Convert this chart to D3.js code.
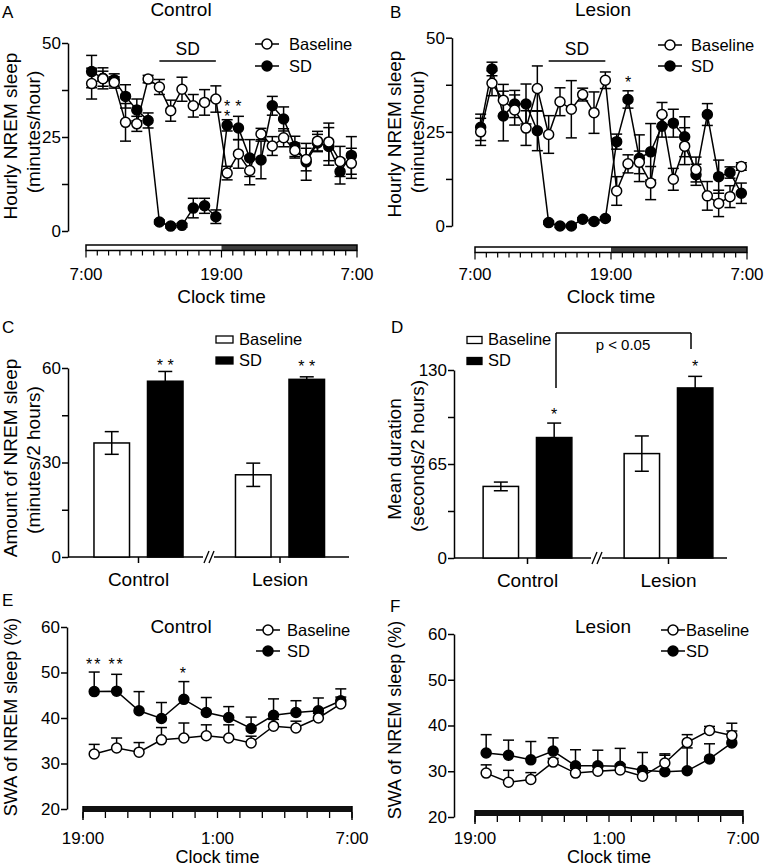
<!DOCTYPE html>
<html><head><meta charset="utf-8">
<script src="https://cdn.jsdelivr.net/npm/d3@7"></script>
<style>
body{margin:0;background:#fff}
svg{display:block}
text{font-family:"Liberation Sans",Arial,Helvetica,sans-serif;fill:#000}
</style>
</head><body>
<svg id="chart" width="768" height="868"></svg>
<script>
// ---------------- DATA ----------------
const hourSlots24 = d3.range(24).map(i => i + 0.5);   // hourly bins, 7:00 -> 7:00
const hourSlots12 = d3.range(12).map(i => i + 0.5);   // hourly bins, 19:00 -> 7:00
const xTicksDay = ["7:00", "19:00", "7:00"];
const xTicksNight = ["19:00", "1:00", "7:00"];

// Panel A (Control, hourly NREM sleep, minutes/hour)
const ctrlBaseline    = [39.2,40.5,39.5,28.9,28.5,40.4,38.3,32.0,37.7,33.3,34.2,35.1,15.4,20.5,16.1,25.8,22.6,24.8,21.4,19.0,23.9,23.7,18.5,18.0];
const ctrlBaselineErr = [4.1,2.0,1.5,5.0,2.0,1.0,2.0,2.8,3.2,3.0,3.4,3.5,1.8,3.8,3.8,1.5,2.5,2.4,2.0,3.0,2.6,5.0,4.0,4.0];
const ctrlSD          = [42.4,40.6,40.2,35.8,32.2,29.4,2.4,1.3,1.5,6.1,6.7,3.8,28.1,27.4,19.4,18.9,33.3,29.8,22.5,18.4,23.4,22.5,15.8,20.1];
const ctrlSDErr       = [4.3,2.8,1.6,3.1,2.9,2.0,0.5,0.5,0.5,2.6,2.0,1.8,1.5,3.1,4.9,5.0,2.5,3.2,2.7,4.9,2.3,5.0,3.3,5.0];

// Panel B (Lesion, hourly NREM sleep)
const lesBaseline     = [25.0,37.9,33.4,30.8,26.0,36.5,24.3,33.0,31.0,34.9,30.1,38.7,9.3,16.5,16.9,11.4,29.6,12.4,21.2,15.0,8.0,6.0,7.8,15.8];
const lesBaselineErr  = [3.6,3.3,4.2,4.0,4.6,6.0,5.0,3.7,7.6,1.7,5.5,2.2,3.8,2.4,3.0,4.4,3.2,2.9,4.9,3.3,3.8,3.5,2.9,1.0];
const lesSD           = [26.2,41.7,29.2,32.4,32.4,25.3,0.9,0.0,0.0,1.8,1.2,2.0,22.4,33.6,18.0,19.7,26.5,27.3,23.7,13.6,29.6,13.1,14.2,8.7];
const lesSDErr        = [3.5,1.8,6.6,3.6,5.3,5.3,0.4,0.4,0.4,0.4,0.4,0.4,2.0,2.3,6.2,7.5,2.9,3.7,5.3,2.8,2.9,4.4,1.5,2.7];

// Panels C & D (bars)
const groups = ["Control", "Lesion"];
const conditions = ["Baseline", "SD"];
const amountNREM     = [[36.2, 55.8], [26.1, 56.4]];   // minutes / 2 hours
const amountNREMErr  = [[3.6, 3.1], [3.7, 0.8]];
const amountStars    = ["* *", "* *"];
const meanDuration    = [[49.5, 83.3], [72.2, 117.6]]; // seconds / 2 hours
const meanDurationErr = [[3.0, 10.0], [12.2, 8.0]];
const durationStars   = ["*", "*"];

// Panel E (Control, SWA %)
const ctrlSWABase    = [32.1,33.4,32.5,35.2,35.6,36.1,35.6,34.5,38.2,37.8,40.0,43.1];
const ctrlSWABaseErr = [2.1,2.2,2.1,2.7,3.3,2.4,2.9,1.5,1.5,1.5,1.0,1.5];
const ctrlSWASD      = [45.8,45.9,41.6,39.9,44.1,41.2,40.1,37.7,40.6,41.2,41.6,43.8];
const ctrlSWASDErr   = [4.3,3.7,4.2,3.5,3.9,3.3,2.4,2.5,3.6,2.6,2.8,2.6];
const ctrlSWAStars   = ["**","**","","","*","","","","","","",""];

// Panel F (Lesion, SWA %)
const lesSWABase    = [29.6,27.6,28.2,32.0,29.6,30.0,30.3,28.9,31.8,36.3,38.9,37.8];
const lesSWABaseErr = [1.8,2.6,1.5,0.8,1.0,1.0,1.2,1.0,2.0,1.7,0.9,1.0];
const lesSWASD      = [34.0,33.5,32.5,34.4,31.2,31.2,31.1,30.2,29.9,30.1,32.7,36.2];
const lesSWASDErr   = [4.0,3.3,4.0,2.9,3.5,3.4,3.9,3.9,3.6,5.0,3.3,4.3];

// ---------------- DRAWING ----------------
const svg = d3.select("#chart");
const FONT_TICK = 17, FONT_LAB = 19, FONT_LEG = 16.5;

function text(x, y, s, size, anchor = "start", rot = 0) {
  const t = svg.append("text").attr("x", x).attr("y", y).text(s)
    .attr("font-size", size).attr("text-anchor", anchor);
  if (rot) t.attr("transform", `rotate(${rot},${x},${y})`);
  return t;
}
function line(x1, y1, x2, y2, w = 1.5, col = "#000") {
  return svg.append("line").attr("x1", x1).attr("y1", y1).attr("x2", x2).attr("y2", y2)
    .attr("stroke", col).attr("stroke-width", w);
}
function yAxis(y, x, ticks, labelled) {
  const g = svg.append("g").attr("transform", `translate(${x},0)`)
    .call(d3.axisLeft(y).tickValues(ticks).tickSize(6).tickSizeOuter(0).tickPadding(1)
      .tickFormat(d => labelled.includes(d) ? d : ""));
  g.select(".domain").attr("stroke-width", 1.5);
  g.selectAll(".tick line").attr("stroke-width", 1.5);
  g.selectAll(".tick text").attr("font-size", FONT_TICK).attr("font-family", '"Liberation Sans",Arial,sans-serif').attr("fill", "#000");
  return g;
}

function drawSeries(x, y, xs, vals, errs, filled, errMode) {
  const g = svg.append("g");
  const pts = xs.map((h, i) => ({h, v: vals[i], e: errs[i]}));
  g.append("path").datum(pts)
    .attr("d", d3.line().x(d => x(d.h)).y(d => y(d.v)))
    .attr("fill", "none").attr("stroke", "#000").attr("stroke-width", 1.5);
  return {g, pts, filled, errMode, x, y};
}
function drawErrAndDots(s) {
  const {g, pts, filled, errMode, x, y} = s;
  const cap = 5.5;
  pts.forEach(d => {
    const cx = x(d.h);
    const top = y(d.v + d.e), bot = errMode === "both" ? y(d.v - d.e) : y(d.v);
    g.append("line").attr("x1", cx).attr("x2", cx).attr("y1", top).attr("y2", bot).attr("stroke", "#000").attr("stroke-width", 1.5);
    g.append("line").attr("x1", cx - cap).attr("x2", cx + cap).attr("y1", top).attr("y2", top).attr("stroke", "#000").attr("stroke-width", 1.5);
    if (errMode === "both")
      g.append("line").attr("x1", cx - cap).attr("x2", cx + cap).attr("y1", bot).attr("y2", bot).attr("stroke", "#000").attr("stroke-width", 1.5);
  });
  g.selectAll("circle.pt").data(pts).join("circle").attr("class", "pt")
    .attr("cx", d => x(d.h)).attr("cy", d => y(d.v)).attr("r", 5)
    .attr("fill", filled ? "#000" : "#fff").attr("stroke", "#000").attr("stroke-width", 1.5);
}
function lineLegend(cx, y1, y2, tx) {
  [[y1, false, "Baseline"], [y2, true, "SD"]].forEach(([yy, f, lab]) => {
    line(cx - 12, yy, cx + 12, yy, 1.5);
    svg.append("circle").attr("cx", cx).attr("cy", yy).attr("r", 5)
      .attr("fill", f ? "#000" : "#fff").attr("stroke", "#000").attr("stroke-width", 1.5);
    text(tx, yy + 6, lab, FONT_LEG);
  });
}

// ----- Panels A & B -----
function hourlyPanel(o) {
  const x = d3.scaleLinear().domain([0, 24]).range([o.x0, o.x1]);
  const y = d3.scaleLinear().domain([0, 50]).range([o.yb, o.yt]);
  yAxis(y, o.ax, [0, 12.5, 25, 37.5, 50], [0, 25, 50]);
  // light/dark bar
  const bt = o.barTop, bh = 5.5;
  svg.append("rect").attr("x", x(0)).attr("y", bt).attr("width", x(12) - x(0)).attr("height", bh).attr("fill", "#fff");
  svg.append("rect").attr("x", x(12)).attr("y", bt).attr("width", x(24) - x(12)).attr("height", bh).attr("fill", "#3d3d3d");
  svg.append("rect").attr("x", x(0)).attr("y", bt).attr("width", x(24) - x(0)).attr("height", bh)
    .attr("fill", "none").attr("stroke", "#000").attr("stroke-width", 1.5);
  d3.range(25).forEach(h => line(x(h), bt + bh, x(h), bt + bh + ((h % 12 === 0) ? 7 : 5), 1.2));
  xTicksDay.forEach((lab, i) => text(x(i * 12), o.tickY, lab, FONT_TICK, "middle"));
  text((x(0) + x(24)) / 2, o.tickY + 23, "Clock time", FONT_LAB, "middle");
  // SD bar
  line(x(6.5), o.sdY, x(11.5), o.sdY, 1.5);
  text((x(6.5) + x(11.5)) / 2, o.sdY - 6, "SD", FONT_LEG + 1, "middle");
  const sSD = drawSeries(x, y, hourSlots24, o.sd, o.sdErr, true, "both");
  const sB = drawSeries(x, y, hourSlots24, o.base, o.baseErr, false, "both");
  drawErrAndDots(sSD);
  drawErrAndDots(sB);
  return {x, y};
}

// A
const pA = hourlyPanel({x0: 86, x1: 357, yb: 231, yt: 43, ax: 68, barTop: 245, tickY: 280, sdY: 61,
  base: ctrlBaseline, baseErr: ctrlBaselineErr, sd: ctrlSD, sdErr: ctrlSDErr});
text(2, 18, "A", 17);
text(181, 16, "Control", FONT_LAB, "middle");
lineLegend(267, 44, 66, 289);
text(10, 136, "Hourly NREM sleep", FONT_LAB, "middle", -90).attr("dy", 7);
text(33, 132, "(minutes/hour)", FONT_LAB, "middle", -90).attr("dy", 7);
// stacked significance stars after SD (19:00 and 20:00 bins)
const starA = svg.append("text").attr("font-size", 16).attr("text-anchor", "middle");
starA.append("tspan").attr("x", pA.x(12.5)).attr("y", 112).text("*");
starA.append("tspan").attr("x", pA.x(13.5)).attr("y", 112).text("*");
starA.append("tspan").attr("x", pA.x(12.5)).attr("y", 122).text("*");

// B
const pB = hourlyPanel({x0: 475, x1: 747, yb: 226, yt: 37.7, ax: 452, barTop: 247, tickY: 280, sdY: 61,
  base: lesBaseline, baseErr: lesBaselineErr, sd: lesSD, sdErr: lesSDErr});
text(390, 18, "B", 17);
text(603, 16, "Lesion", FONT_LAB, "middle");
lineLegend(670, 45, 66, 691);
text(394, 134, "Hourly NREM sleep", FONT_LAB, "middle", -90).attr("dy", 7);
text(417, 132, "(minutes/hour)", FONT_LAB, "middle", -90).attr("dy", 7);
text(pB.x(13.5), 88, "*", 16, "middle");

// ----- Panels C & D -----
function barPanel(o) {
  const x0 = d3.scaleBand().domain(groups).range([o.g0, o.g1]);
  const x1 = d3.scaleBand().domain(conditions).range([0, x0.bandwidth()]).paddingInner(0.336).paddingOuter(0.49);
  const y = d3.scaleLinear().domain([0, o.max]).range([o.yb, o.yt]);
  yAxis(y, o.ax, o.ticks, o.labelled);
  // x axis with break
  line(o.ax, o.yb, o.brk - 5, o.yb, 1.5);
  line(o.brk + 6, o.yb, o.axEnd, o.yb, 1.5);
  line(o.brk - 4, o.yb + 6, o.brk + 1, o.yb - 6, 1.3);
  line(o.brk + 1, o.yb + 6, o.brk + 6, o.yb - 6, 1.3);
  groups.forEach((gname, gi) => {
    const gx = x0(gname);
    line(gx + x0.bandwidth() / 2, o.yb, gx + x0.bandwidth() / 2, o.yb + 6, 1.5);
    text(gx + x0.bandwidth() / 2, o.yb + 29, gname, FONT_LAB, "middle");
    conditions.forEach((c, ci) => {
      const v = o.vals[gi][ci], e = o.errs[gi][ci];
      const bx = gx + x1(c), bw = x1.bandwidth(), cx = bx + bw / 2;
      svg.append("rect").attr("x", bx).attr("y", y(v)).attr("width", bw).attr("height", o.yb - y(v))
        .attr("fill", ci === 0 ? "#fff" : "#000").attr("stroke", "#000").attr("stroke-width", 1.5);
      line(cx, y(v + e), cx, y(v - e), 1.5);
      line(cx - 7, y(v + e), cx + 7, y(v + e), 1.5);
      line(cx - 7, y(v - e), cx + 7, y(v - e), 1.5);
      if (ci === 1) text(cx, o.starY[gi], o.stars[gi], 16, "middle");
    });
  });
  return {x0, x1, y};
}
// C
barPanel({g0: 67.75, g1: 350.75, yb: 557, yt: 368, max: 60, ax: 68, axEnd: 349, brk: 208,
  ticks: [0, 15, 30, 45, 60], labelled: [0, 30, 60], vals: amountNREM, errs: amountNREMErr,
  stars: amountStars, starY: [371, 372]});
text(2, 333, "C", 17);
text(10, 458, "Amount of NREM sleep", FONT_LAB, "middle", -90).attr("dy", 7);
text(33, 460, "(minutes/2 hours)", FONT_LAB, "middle", -90).attr("dy", 7);
[["Baseline", "#fff", 339.5], ["SD", "#000", 360.5]].forEach(([l, f, yy]) => {
  svg.append("rect").attr("x", 216).attr("y", yy - 3.5).attr("width", 17).attr("height", 7)
    .attr("fill", f).attr("stroke", "#000").attr("stroke-width", 1.3);
  text(239, yy + 5, l, FONT_LEG);
});
// D
barPanel({g0: 457, g1: 739, yb: 558, yt: 370, max: 130, ax: 454, axEnd: 727, brk: 596,
  ticks: [0, 32.5, 65, 97.5, 130], labelled: [0, 65, 130], vals: meanDuration, errs: meanDurationErr,
  stars: durationStars, starY: [420, 372]});
text(391, 333, "D", 17);
text(394, 459, "Mean duration", FONT_LAB, "middle", -90).attr("dy", 7);
text(417, 456, "(seconds/2 hours)", FONT_LAB, "middle", -90).attr("dy", 7);
[["Baseline", "#fff", 340], ["SD", "#000", 361]].forEach(([l, f, yy]) => {
  svg.append("rect").attr("x", 467).attr("y", yy - 3.5).attr("width", 15).attr("height", 7)
    .attr("fill", f).attr("stroke", "#000").attr("stroke-width", 1.3);
  text(488, yy + 5, l, FONT_LEG);
});
// significance bracket
line(556, 388, 556, 333, 1.5);
line(556, 333, 691, 333, 1.5);
line(691, 333, 691, 349, 1.5);
text(623, 350, "p < 0.05", 15, "middle");

// ----- Panels E & F -----
function swaPanel(o) {
  const x = d3.scaleLinear().domain([0, 12]).range([o.x0, o.x1]);
  const y = d3.scaleLinear().domain([20, 60]).range([o.yb, o.yt]);
  yAxis(y, o.ax, [20, 30, 40, 50, 60], [20, 30, 40, 50, 60]);
  svg.append("rect").attr("x", x(0)).attr("y", o.barTop).attr("width", x(12) - x(0)).attr("height", 6).attr("fill", "#111");
  d3.range(13).forEach(h => line(x(h), o.barTop + 6, x(h), o.barTop + 12, 1.3));
  line(x(0), o.barTop, x(0), o.barTop + 14, 1.5);
  line(x(12), o.barTop, x(12), o.barTop + 14, 1.5);
  xTicksNight.forEach((lab, i) => text(x(i * 6), 844, lab, FONT_TICK, "middle"));
  text((x(0) + x(12)) / 2, 863, "Clock time", 18, "middle");
  const sSD = drawSeries(x, y, hourSlots12, o.sd, o.sdErr, true, "up");
  const sB = drawSeries(x, y, hourSlots12, o.base, o.baseErr, false, "up");
  drawErrAndDots(sB);
  drawErrAndDots(sSD);
  return {x, y};
}
const pE = swaPanel({x0: 83, x1: 352, yb: 809, yt: 627, ax: 67, barTop: 806,
  base: ctrlSWABase, baseErr: ctrlSWABaseErr, sd: ctrlSWASD, sdErr: ctrlSWASDErr});
text(2, 606, "E", 17);
text(181, 633, "Control", FONT_LAB, "middle");
lineLegend(268, 630, 651, 287);
text(10, 717, "SWA of NREM sleep (%)", 18, "middle", -90).attr("dy", 7);
ctrlSWAStars.forEach((s, i) => {
  if (s) text(pE.x(hourSlots12[i]), s === "*" ? 679 : 670, s, 16, "middle").attr("letter-spacing", 2);
});

swaPanel({x0: 475, x1: 743, yb: 817, yt: 634, ax: 454, barTop: 810,
  base: lesSWABase, baseErr: lesSWABaseErr, sd: lesSWASD, sdErr: lesSWASDErr});
text(390, 612, "F", 17);
text(603, 633, "Lesion", FONT_LAB, "middle");
lineLegend(673, 630, 651, 686);
text(394, 720, "SWA of NREM sleep (%)", 18, "middle", -90).attr("dy", 7);
</script>
</body></html>
